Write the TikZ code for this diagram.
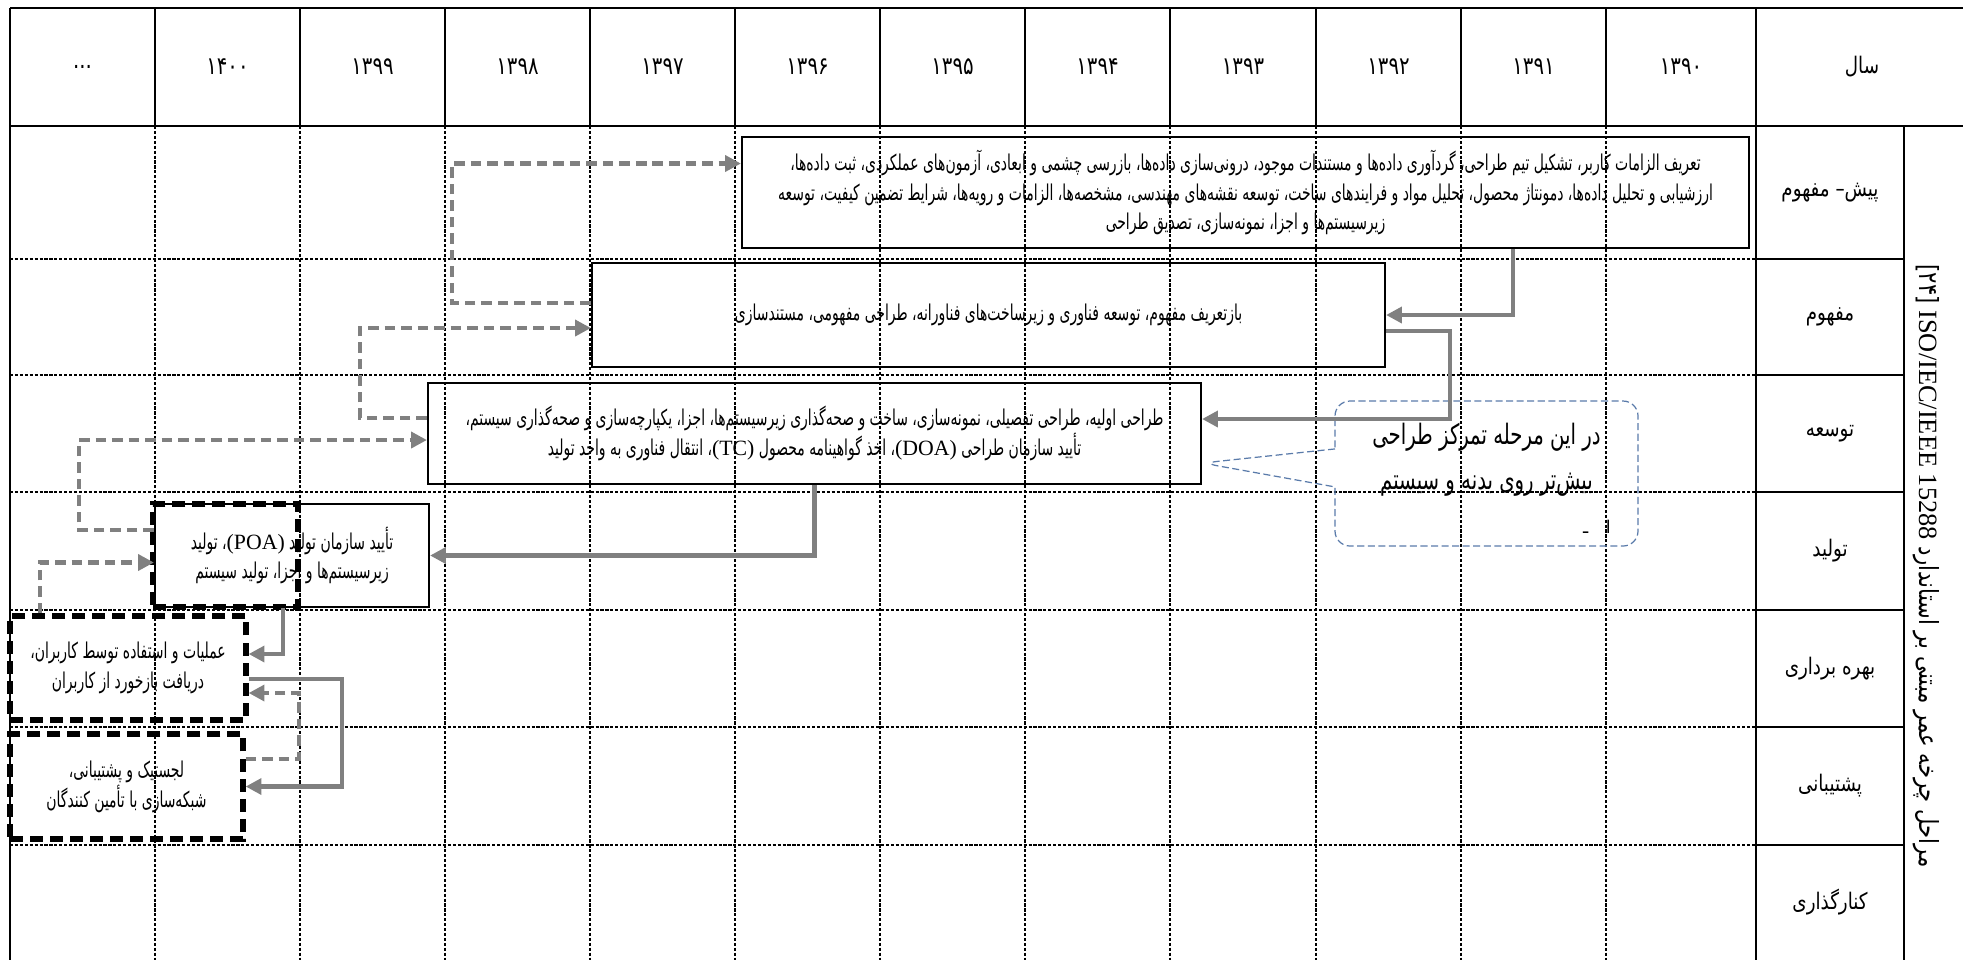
\documentclass[tikz,border=0pt]{standalone}
\usepackage{fontspec}
\usepackage{tikz}
\usetikzlibrary{arrows.meta,shapes.callouts}
\setmainfont{Liberation Serif}
\newfontfamily\farsi[Script=Arabic]{DejaVu Sans}
\newfontfamily\farsin[Script=Arabic,FakeStretch=0.8]{DejaVu Sans}
\newfontfamily\farsinm[Script=Arabic,FakeStretch=0.7]{DejaVu Sans}
\newfontfamily\farsinc[Script=Arabic,FakeStretch=0.64]{DejaVu Sans}
\TeXXeTstate=1
\newcommand\fa[1]{\beginR #1\endR}
\newcommand\lat[1]{\beginL{\rmfamily #1}\endL}
\definecolor{notecol}{RGB}{90,123,170}
\tikzset{
  headline/.style={line width=0.7pt},
  gridline/.style={line width=0.35pt, dash pattern=on 0.9pt off 0.5pt},
  stagebox/.style={draw, line width=0.6pt, inner sep=0pt, align=center, font=\farsinc\fontsize{6.2}{8.5}\selectfont},
  userbox/.style={stagebox, line width=1.5pt, dash pattern=on 3.7pt off 2pt},
  markbox/.style={draw, line width=1.5pt, dash pattern=on 3.7pt off 2pt},
  fwd/.style={draw=gray, line width=1.2pt, -{Triangle[length=4.5pt,width=4.5pt]}},
  back/.style={fwd, dash pattern=on 3pt off 1.7pt},
  yearlabel/.style={font=\farsin\fontsize{7}{8}\selectfont},
  rowlabel/.style={font=\farsin\fontsize{6.5}{8}\selectfont},
  note/.style={rectangle callout, draw=notecol, line width=0.35pt, dash pattern=on 2pt off 1pt, rounded corners=0.15cm, align=center, callout pointer width=0.38cm, font=\farsinm\fontsize{8}{12.8}\selectfont},
}
\begin{document}
\begin{tikzpicture}
  \useasboundingbox (0,0) rectangle (19.63,-9.60);
  \draw[gridline] (1.55,-1.26) -- (1.55,-9.60) (3.00,-1.26) -- (3.00,-9.60) (4.45,-1.26) -- (4.45,-9.60) (5.90,-1.26) -- (5.90,-9.60) (7.35,-1.26) -- (7.35,-9.60) (8.80,-1.26) -- (8.80,-9.60) (10.25,-1.26) -- (10.25,-9.60) (11.70,-1.26) -- (11.70,-9.60) (13.16,-1.26) -- (13.16,-9.60) (14.61,-1.26) -- (14.61,-9.60) (16.06,-1.26) -- (16.06,-9.60);
  \draw[gridline] (0.10,-2.59) -- (17.56,-2.59) (0.10,-3.75) -- (17.56,-3.75) (0.10,-4.92) -- (17.56,-4.92) (0.10,-6.10) -- (17.56,-6.10) (0.10,-7.27) -- (17.56,-7.27) (0.10,-8.45) -- (17.56,-8.45);
  \draw[headline] (0.10,-0.08) -- (19.63,-0.08);
  \draw[headline] (0.10,-1.26) -- (19.63,-1.26);
  \draw[headline] (0.10,-0.08) -- (0.10,-9.60);
  \draw[headline] (17.56,-0.08) -- (17.56,-9.60);
  \draw[headline] (19.04,-1.26) -- (19.04,-9.60);
  \draw[headline] (1.55,-0.08) -- (1.55,-1.26) (3.00,-0.08) -- (3.00,-1.26) (4.45,-0.08) -- (4.45,-1.26) (5.90,-0.08) -- (5.90,-1.26) (7.35,-0.08) -- (7.35,-1.26) (8.80,-0.08) -- (8.80,-1.26) (10.25,-0.08) -- (10.25,-1.26) (11.70,-0.08) -- (11.70,-1.26) (13.16,-0.08) -- (13.16,-1.26) (14.61,-0.08) -- (14.61,-1.26) (16.06,-0.08) -- (16.06,-1.26);
  \draw[headline] (17.56,-2.59) -- (19.04,-2.59) (17.56,-3.75) -- (19.04,-3.75) (17.56,-4.92) -- (19.04,-4.92) (17.56,-6.10) -- (19.04,-6.10) (17.56,-7.27) -- (19.04,-7.27) (17.56,-8.45) -- (19.04,-8.45);

  \node[yearlabel] (ydots) at (0.825,-0.67) {...};
  \node[yearlabel] (y1400) at (2.275,-0.67) {۱۴۰۰};
  \node[yearlabel] (y1399) at (3.725,-0.67) {۱۳۹۹};
  \node[yearlabel] (y1398) at (5.175,-0.67) {۱۳۹۸};
  \node[yearlabel] (y1397) at (6.625,-0.67) {۱۳۹۷};
  \node[yearlabel] (y1396) at (8.075,-0.67) {۱۳۹۶};
  \node[yearlabel] (y1395) at (9.525,-0.67) {۱۳۹۵};
  \node[yearlabel] (y1394) at (10.975,-0.67) {۱۳۹۴};
  \node[yearlabel] (y1393) at (12.43,-0.67) {۱۳۹۳};
  \node[yearlabel] (y1392) at (13.885,-0.67) {۱۳۹۲};
  \node[yearlabel] (y1391) at (15.335,-0.67) {۱۳۹۱};
  \node[yearlabel] (y1390) at (16.81,-0.67) {۱۳۹۰};
  \node[rowlabel] (year) at (18.62,-0.67) {\fa{سال}};

  \node[rowlabel] (rpre) at (18.30,-1.925) {\fa{پیش– مفهوم}};
  \node[rowlabel] (rconc) at (18.30,-3.17) {\fa{مفهوم}};
  \node[rowlabel] (rdev) at (18.30,-4.335) {\fa{توسعه}};
  \node[rowlabel] (rprod) at (18.30,-5.51) {\fa{تولید}};
  \node[rowlabel] (rops) at (18.30,-6.685) {\fa{بهره برداری}};
  \node[rowlabel] (rsupp) at (18.30,-7.86) {\fa{پشتیبانی}};
  \node[rowlabel] (rret) at (18.30,-9.025) {\fa{کنارگذاری}};
  \node[rowlabel, font=\farsin\fontsize{7.5}{10}\selectfont, rotate=-90] (stdtitle) at (19.26,-5.66) {\fa{مراحل چرخه عمر مبتنی بر استاندارد \lat{ISO/IEC/IEEE 15288} [۲۴]}};

  \node[stagebox, minimum width=10.07cm, minimum height=1.11cm] (preconc) at (12.455,-1.925) {\fa{تعریف الزامات کاربر، تشکیل تیم طراحی، گردآوری داده‌ها و مستندات موجود، درونی‌سازی داده‌ها، بازرسی چشمی و ابعادی، آزمون‌های عملکردی، ثبت داده‌ها،}\\ \fa{ارزشیابی و تحلیل داده‌ها، دمونتاژ محصول، تحلیل مواد و فرایندهای ساخت، توسعه نقشه‌های مهندسی، مشخصه‌ها، الزامات و رویه‌ها، شرایط تضمین کیفیت، توسعه}\\ \fa{زیرسیستم‌ها و اجزا، نمونه‌سازی، تصدیق طراحی}};
  \node[stagebox, minimum width=7.93cm, minimum height=1.04cm] (concept) at (9.885,-3.15) {\fa{بازتعریف مفهوم، توسعه فناوری و زیرساخت‌های فناورانه، طراحی مفهومی، مستندسازی}};
  \node[stagebox, minimum width=7.73cm, minimum height=1.01cm] (devel) at (8.145,-4.335) {\fa{طراحی اولیه، طراحی تفصیلی، نمونه‌سازی، ساخت و صحه‌گذاری زیرسیستم‌ها، اجزا، یکپارچه‌سازی و صحه‌گذاری سیستم،}\\ \fa{تأیید سازمان طراحی \lat{(DOA)}، اخذ گواهینامه محصول \lat{(TC)}، انتقال فناوری به واحد تولید}};
  \node[stagebox, minimum width=2.74cm, minimum height=1.03cm] (prod) at (2.92,-5.555) {\fa{تأیید سازمان تولید \lat{(POA)}، تولید}\\ \fa{زیرسیستم‌ها و اجزا، تولید سیستم}};
  \node[markbox, minimum width=1.45cm, minimum height=1.03cm] (prodmark) at (2.255,-5.555) {};
  \node[userbox, minimum width=2.36cm, minimum height=1.04cm] (ops) at (1.28,-6.68) {\fa{عملیات و استفاده توسط کاربران،}\\ \fa{دریافت بازخورد از کاربران}};
  \node[userbox, minimum width=2.33cm, minimum height=1.05cm] (supp) at (1.265,-7.865) {\fa{لجستیک و پشتیبانی،}\\ \fa{شبکه‌سازی با تأمین کنندگان}};

  \coordinate (focustip) at ([yshift=-2.95mm]devel.east);
  \node[note, minimum width=3.03cm, minimum height=1.45cm, callout absolute pointer=(focustip)] (focus) at (14.865,-4.735) {\fa{در این مرحله تمرکز طراحی}\\ \fa{بیش‌تر روی بدنه و سیستم}\\[-1mm] \mbox{}};
  \node[rowlabel, font=\farsi\fontsize{5}{6}\selectfont] (focusmark) at (15.97,-5.27) {\fa{ا\quad ـ}};

  \draw[fwd] ([xshift=2.675cm]preconc.south) |- (concept.east);
  \draw[fwd] ([yshift=-1.6mm]concept.east) -- ++(0.64,0) |- ([yshift=1.45mm]devel.east);
  \draw[fwd] (devel.south) |- (prod.east);
  \draw[fwd] ([xshift=-0.9mm]prod.south) |- ([yshift=1.4mm]ops.east);
  \draw[fwd] ([yshift=-1.1mm]ops.east) -- ++(0.93,0) |- (supp.east);
  \draw[back] ([yshift=2.75mm]supp.east) -- ++(0.53,0) |- ([yshift=-2.5mm]ops.east);
  \draw[back] ([xshift=-8.8mm]ops.north) |- ([yshift=-0.7mm]prod.west);
  \draw[back] ([yshift=2.55mm]prod.west) -- ++(-0.75,0) |- ([yshift=-0.65mm]devel.west);
  \draw[back] ([yshift=1.55mm]devel.west) -- ++(-0.67,0) |- ([yshift=-1.3mm]concept.west);
  \draw[back] ([yshift=1.2mm]concept.west) -- ++(-1.39,0) |- ([yshift=2.9mm]preconc.west);
\end{tikzpicture}
\end{document}
